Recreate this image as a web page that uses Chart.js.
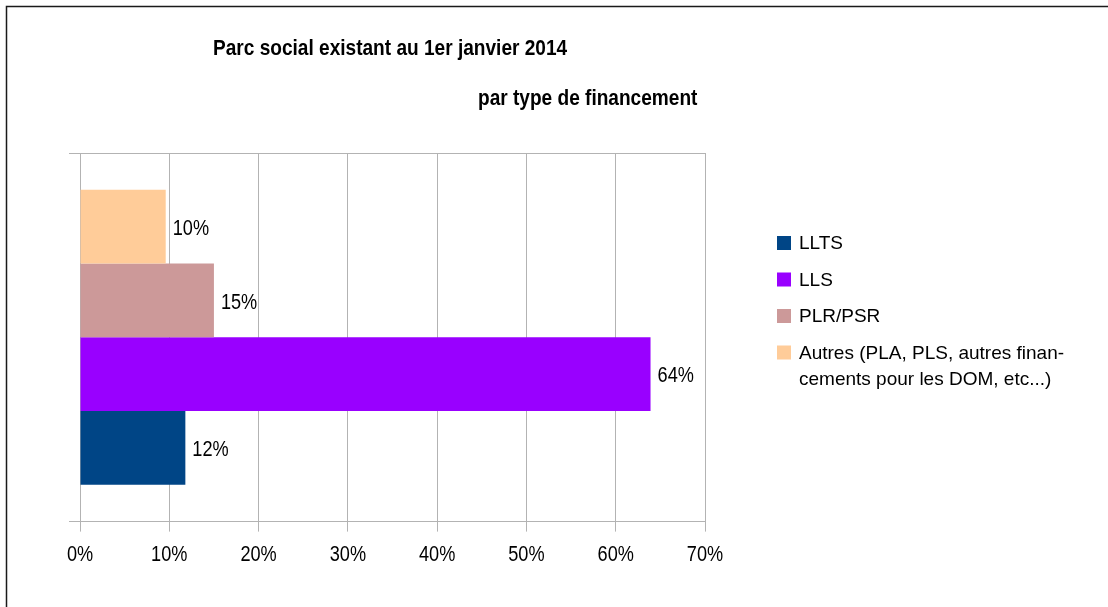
<!DOCTYPE html>
<html><head><meta charset="utf-8">
<script src="https://cdn.jsdelivr.net/npm/chart.js@4"></script>
<style>html,body{margin:0;padding:0;background:#fff;overflow:hidden}#wrap{width:1108px;height:607px;position:relative}</style>
</head><body><div id="wrap"><canvas id="c" width="1108" height="607"></canvas></div>
<script>
// ---- data ----
const categories = ['Parc social'];
const seriesNames = ['LLTS', 'LLS', 'PLR/PSR', 'Autres (PLA, PLS, autres financements pour les DOM, etc...)'];
const seriesValues = [11.8, 63.9, 15.0, 9.6];
const legendLines = [['LLTS'], ['LLS'], ['PLR/PSR'], ['Autres (PLA, PLS, autres finan-', 'cements pour les DOM, etc...)']];
const xTickValues = [0, 10, 20, 30, 40, 50, 60, 70];
const titleLine1 = 'Parc social existant au 1er janvier 2014';
const titleLine2 = 'par type de financement';

// ---- styles ----
const seriesColors = ['#004586', '#9900ff', '#cc9999', '#ffcc99'];
const NARROW = "'Liberation Sans Narrow', 'Liberation Sans', Arial, sans-serif";
const REGULAR = "'Liberation Sans', Arial, sans-serif";
const GRID = '#b3b3b3';

const canvas = document.getElementById('c');
const ctx0 = canvas.getContext('2d');
// emulate a condensed face (no narrow font installed): squeeze text drawn in the "Narrow" family
const origFill = ctx0.fillText.bind(ctx0);
ctx0.fillText = function (t, x, y, mw) {
  if (/Narrow/.test(this.font)) {
    const ratio = /bold|700/.test(this.font) ? 0.867 : 0.825;
    const w = this.measureText(t).width * ratio;
    return origFill(t, x, y, mw !== undefined ? Math.min(mw, w) : w);
  }
  return mw !== undefined ? origFill(t, x, y, mw) : origFill(t, x, y);
};

// datasets listed top-to-bottom (Chart.js draws first dataset at the top)
const order = [3, 2, 1, 0];
const datasets = order.map(i => ({
  label: seriesNames[i],
  data: [seriesValues[i]],
  backgroundColor: seriesColors[i],
  borderWidth: 0,
  categoryPercentage: 0.8,
  barPercentage: 1.0
}));

const decor = {
  id: 'decor',
  beforeDraw(chart) {
    const ctx = chart.ctx;
    ctx.save();
    ctx.fillStyle = '#fff';
    ctx.fillRect(0, 0, chart.width, chart.height);
    ctx.strokeStyle = '#1a1a1a';
    ctx.lineWidth = 1.5;
    ctx.beginPath();
    ctx.moveTo(6.5, chart.height);
    ctx.lineTo(6.5, 6.5);
    ctx.lineTo(chart.width, 6.5);
    ctx.stroke();
    ctx.restore();
  },
  afterDraw(chart) {
    const ctx = chart.ctx;
    ctx.save();
    // titles
    ctx.fillStyle = '#000';
    ctx.textBaseline = 'middle';
    ctx.textAlign = 'left';
    ctx.font = "bold 22px " + NARROW;
    ctx.fillText(titleLine1, 213, 49);
    ctx.fillText(titleLine2, 478, 99);
    // data labels
    ctx.font = "22px " + NARROW;
    chart.data.datasets.forEach((ds, di) => {
      const meta = chart.getDatasetMeta(di);
      meta.data.forEach((el, k) => {
        ctx.fillText(Math.round(ds.data[k]) + '%', el.x + 7, el.y + 2);
      });
    });
    // legend
    ctx.font = "19px " + REGULAR;
    let y = 243;
    [0, 1, 2, 3].forEach(i => {
      ctx.fillStyle = seriesColors[i];
      ctx.fillRect(777, y - 7, 14, 14);
      ctx.fillStyle = '#000';
      legendLines[i].forEach((ln, j) => {
        ctx.fillText(ln, 799, y + 1 + j * 26);
      });
      y += 36.5;
    });
    ctx.restore();
  }
};

new Chart(canvas, {
  type: 'bar',
  data: { labels: categories, datasets },
  options: {
    responsive: false,
    animation: false,
    indexAxis: 'y',
    layout: { padding: { left: 69, top: 153, right: 403, bottom: 29 } },
    plugins: { legend: { display: false }, title: { display: false }, tooltip: { enabled: false } },
    scales: {
      x: {
        min: 0, max: 70,
        afterBuildTicks(scale) { scale.ticks = xTickValues.map(v => ({ value: v })); },
        ticks: { callback: v => v + '%', color: '#000', font: { family: NARROW, size: 22 }, padding: 10, maxRotation: 0, autoSkip: false },
        grid: { color: GRID, tickLength: 10, lineWidth: 1 },
        border: { color: GRID }
      },
      y: {
        ticks: { display: false },
        grid: { color: GRID, tickLength: 11, offset: true },
        border: { color: GRID }
      }
    }
  },
  plugins: [decor]
});
</script></body></html>
